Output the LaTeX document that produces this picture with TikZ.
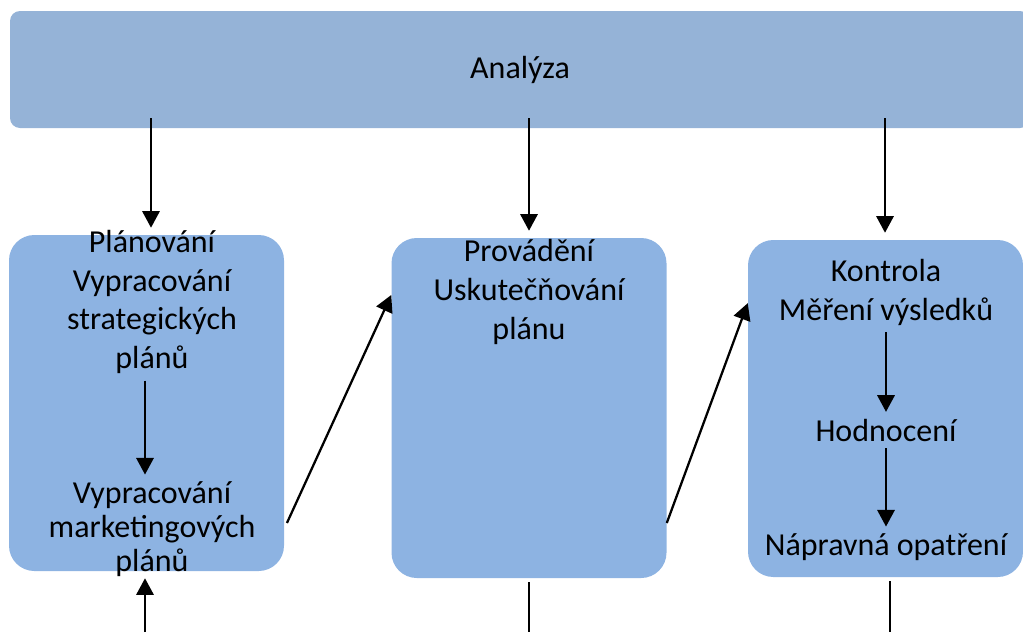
\documentclass[tikz,border=0pt]{standalone}
\usepackage{fontspec}
\setmainfont{Carlito}
\usetikzlibrary{arrows.meta,positioning,calc}
\definecolor{barblue}{HTML}{95B3D7}
\definecolor{boxblue}{HTML}{8DB3E2}

\begin{document}
\begin{tikzpicture}[
    x=0.75pt, y=-0.75pt,
    font=\fontsize{24}{29}\selectfont,
    bar/.style={fill=barblue, rounded corners=7.5pt, minimum width=765pt, minimum height=87.75pt},
    stage/.style={fill=boxblue, rounded corners=19pt, minimum width=206.25pt},
    label/.style={align=center, inner sep=0pt},
    arrow/.style={-{Triangle[length=12.5pt, width=13pt]}, line width=1.7pt},
    tail/.style={line width=1.4pt}
  ]
  \useasboundingbox (0,0) rectangle (1023,632);
  \clip (0,0) rectangle (1023,632);

  \node[bar] (analyza) at (520,69.5) {Analýza};

  \node[stage, minimum height=252pt] (plan) at (146.5,403) {};
  \node[stage, minimum height=255pt] (prov) at (529,408) {};
  \node[stage, minimum height=252.75pt] (kontr) at (885.5,408.5) {};

  \node[label] (planA) at (152,302) {Plánování\\Vypracování\\strategických\\plánů};
  \node[label, font=\fontsize{24}{25.5}\selectfont] (planB) at (152,529) {Vypracování\\marketingových\\plánů};
  \node[label] (provA) at (529,292) {Provádění\\Uskutečňování\\plánu};
  \node[label] (kontrA) at (886,292.5) {Kontrola\\Měření výsledků};
  \node[label] (kontrB) at (886,430) {Hodnocení};
  \node[label] (kontrC) at (886,547) {Nápravná opatření};

  \coordinate (top1) at (151,118);
  \coordinate (top2) at (529,118);
  \coordinate (top3) at (885,118);
  \coordinate (foot1) at (145,632);
  \coordinate (foot2) at (529,632);
  \coordinate (foot3) at (890,632);

  \draw[arrow, shorten >=5.25pt] (top1) -- (top1 |- plan.north);
  \draw[arrow, shorten >=5.25pt] (top2) -- (top2 |- prov.north);
  \draw[arrow, shorten >=5.25pt] (top3) -- (top3 |- kontr.north);

  \draw[arrow, shorten <=5pt, shorten >=5pt] (planA.south -| foot1) -- (planB.north -| foot1);
  \draw[arrow, shorten <=5pt, shorten >=5pt] (kontrA.south) -- (kontrB.north);
  \draw[arrow, shorten <=5pt, shorten >=5pt] (kontrB.south) -- (kontrC.north);

  \draw[arrow] ([xshift=2pt, yshift=-90pt]plan.east) -- ([yshift=84.75pt]prov.west);
  \draw[arrow] ([yshift=-86.25pt]prov.east) -- ([yshift=79pt]kontr.west);

  \draw[arrow, shorten >=5.25pt] (foot1) -- (foot1 |- plan.south);
  \draw[tail, shorten <=3pt] (prov.south) -- (foot2);
  \draw[tail, shorten <=3pt] (foot3 |- kontr.south) -- (foot3);
\end{tikzpicture}
\end{document}
